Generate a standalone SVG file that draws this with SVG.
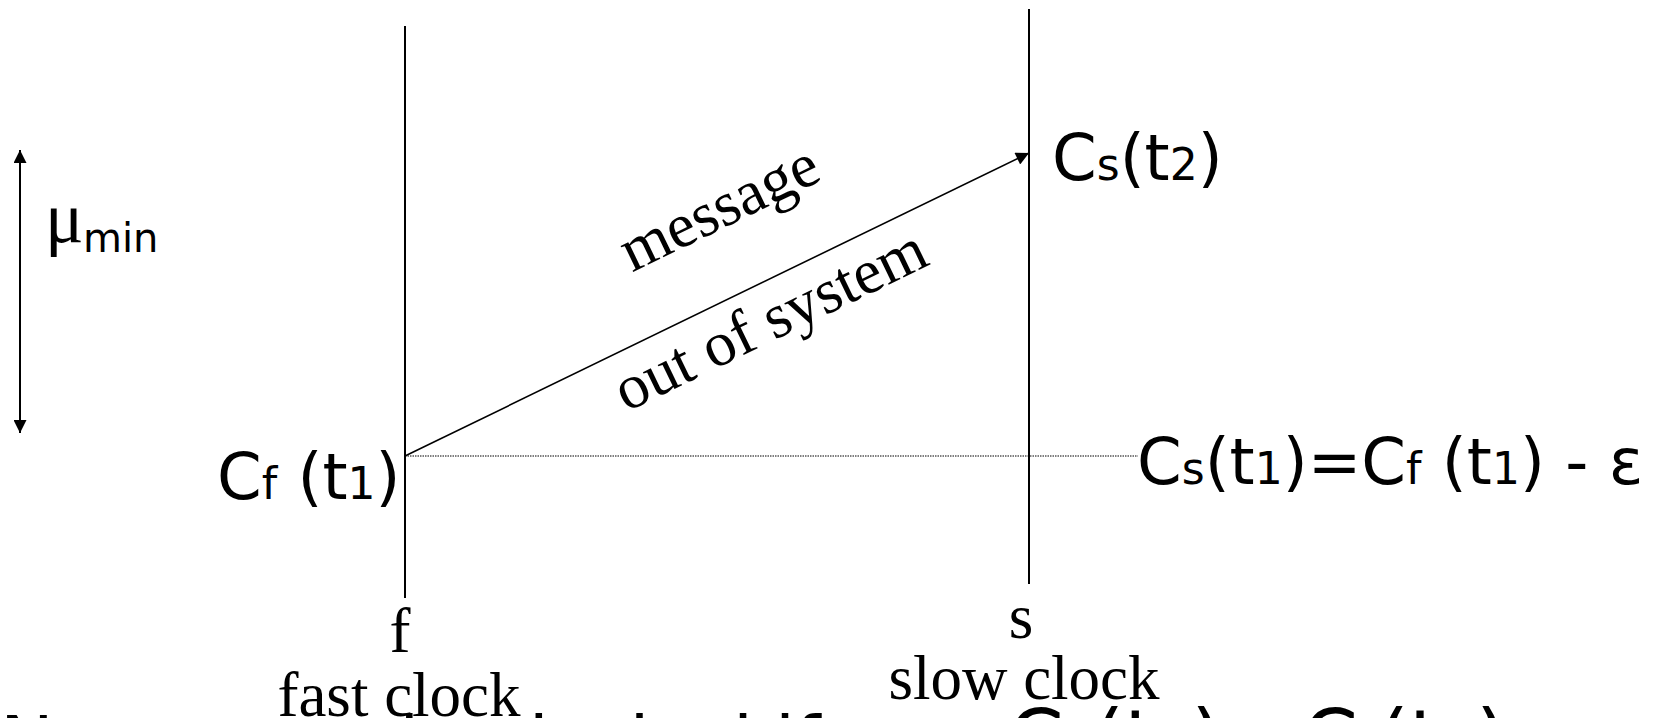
<svg xmlns="http://www.w3.org/2000/svg" width="1655" height="718" viewBox="0 0 1655 718">
<style>
.sans{font-family:"DejaVu Sans",sans-serif;fill:#000}
.serif{font-family:"Liberation Serif",serif;fill:#000}
.big{font-size:64px}
.sm{font-size:44px}
.lbl{font-size:63px}
.ln{stroke:#000;fill:none}
.cap{font-size:72px}
.capm{font-size:80px}
.caps{font-size:56px}
</style>
<defs>
<marker id="ah2" viewBox="0 0 10 10" refX="10" refY="5" markerWidth="15" markerHeight="13" markerUnits="userSpaceOnUse" orient="auto-start-reverse"><path d="M0,0 L10,5 L0,10 z" fill="#000"/></marker>
<marker id="ah3" viewBox="0 0 10 10" refX="10" refY="5" markerWidth="17" markerHeight="13" markerUnits="userSpaceOnUse" orient="auto"><path d="M0,0 L10,5 L0,10 z" fill="#000"/></marker>
</defs>
<rect width="1655" height="718" fill="#fff"/>
<g id="fast-process">
<line class="ln" x1="405" y1="26" x2="405" y2="598" stroke-width="2"/>
<text class="serif lbl" x="400" y="652" text-anchor="middle">f</text>
<text class="serif lbl" x="399" y="716" text-anchor="middle">fast clock</text>
</g>
<g id="slow-process">
<line class="ln" x1="1029" y1="9" x2="1029" y2="584" stroke-width="2"/>
<text class="serif lbl" x="1021" y="638" text-anchor="middle">s</text>
<text class="serif lbl" x="1024" y="699" text-anchor="middle">slow clock</text>
</g>
<g id="label-cf-t1">
<text class="sans big" x="217" y="499">C<tspan class="sm">f</tspan> (t<tspan class="sm">1</tspan>)</text>
</g>
<g id="label-cs-t2">
<text class="sans big" x="1052" y="180">C<tspan class="sm">s</tspan>(t<tspan class="sm">2</tspan>)</text>
</g>
<g id="label-cs-t1">
<text class="sans big" x="1137" y="484">C<tspan class="sm">s</tspan>(t<tspan class="sm">1</tspan>)=C<tspan class="sm">f</tspan> (t<tspan class="sm">1</tspan>) - ε</text>
</g>
<g id="mu-min">
<line class="ln" x1="20" y1="150" x2="20" y2="433" stroke-width="2" marker-start="url(#ah2)" marker-end="url(#ah2)"/>
<text x="45" y="242" style="font-family:'Liberation Serif',serif;font-size:72px">μ</text>
<text class="sans" x="83" y="252" style="font-size:40px">min</text>
</g>
<g id="connectors">
<line class="ln" x1="405" y1="456" x2="1029" y2="153" stroke-width="1.6" marker-end="url(#ah3)"/>
<line class="ln" x1="405" y1="456" x2="1138" y2="456" stroke-width="1" stroke-dasharray="1.5,1"/>
<text class="serif lbl" transform="translate(728,226) rotate(-25.9)" text-anchor="middle">message</text>
<text class="serif lbl" transform="translate(779,338) rotate(-25.9)" text-anchor="middle">out of system</text>
</g>
<g id="caption">
<text class="sans cap" x="0" y="767">Now we <tspan x="360">check</tspan> <tspan x="590">clock</tspan> <tspan x="775">if</tspan> <tspan x="1008" class="capm">C<tspan class="caps">s</tspan>(t<tspan class="caps">2</tspan>) - C<tspan class="caps">f</tspan>(t<tspan class="caps">1</tspan>)</tspan></text>
</g>
</svg>
